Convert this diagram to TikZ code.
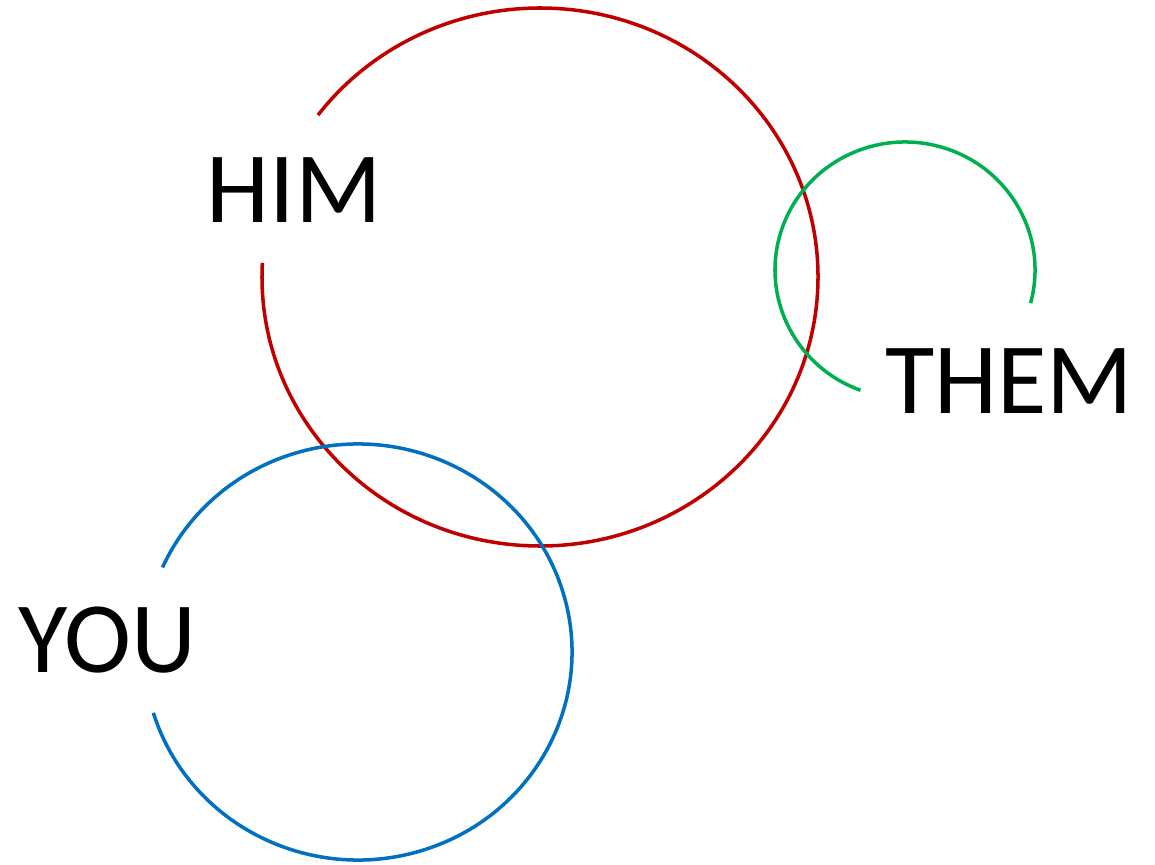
\documentclass[tikz,border=0pt]{standalone}
\usepackage{fontspec}
\setmainfont{Carlito}
\definecolor{himred}{HTML}{C00000}
\definecolor{themgreen}{HTML}{00B050}
\definecolor{youblue}{HTML}{0070C0}
\begin{document}
\begin{tikzpicture}[
        label/.style={inner sep=0pt, font=\fontsize{57.5}{60}\selectfont},
        ring/.style={line width=2pt}
    ]
        \useasboundingbox (0,0) rectangle (23.1,17.28);
        \coordinate (himc) at (10.80,11.74);
        \coordinate (themc) at (18.10,11.88);
        \coordinate (youc) at (7.16,4.24);

        \node[label] (him) at (5.88,13.48) {HIM};
        \node[label] (them) at (20.18,9.66) {THEM};
        \node[label] (you) at (2.14,4.48) {YOU};

        \draw[ring, himred] (himc) ++(177:5.56 and 5.38) arc[start angle=177, end angle=503, x radius=5.56, y radius=5.38];
        \draw[ring, themgreen] (themc) ++(-15:2.60 and 2.56) arc[start angle=-15, end angle=250, x radius=2.60, y radius=2.56];
        \draw[ring, youblue] (youc) ++(197:4.28 and 4.16) arc[start angle=197, end angle=516, x radius=4.28, y radius=4.16];
    \end{tikzpicture}
\end{document}
